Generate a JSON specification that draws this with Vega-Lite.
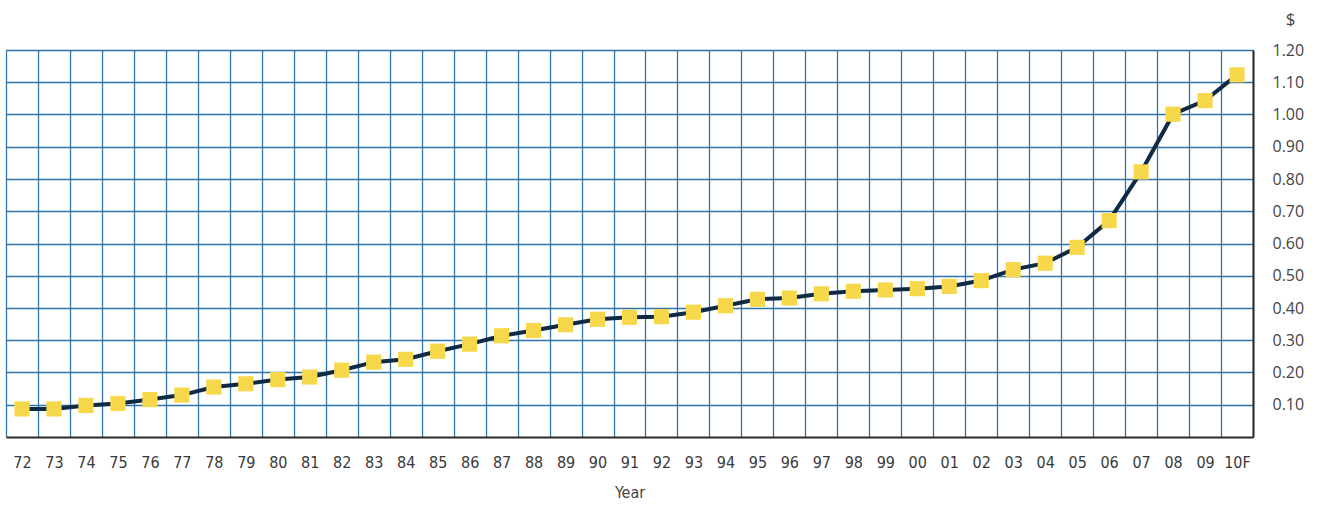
{
  "$schema": "https://vega.github.io/schema/vega-lite/v6.json",
  "autosize": "none",
  "width": 1247,
  "height": 387,
  "padding": {"left": 6, "top": 50, "right": 75, "bottom": 70},
  "background": "white",
  "config": {"view": {"stroke": null}},
  "data": {"values": [
    {"year": "72", "price": 0.087},
    {"year": "73", "price": 0.087},
    {"year": "74", "price": 0.098},
    {"year": "75", "price": 0.104},
    {"year": "76", "price": 0.116},
    {"year": "77", "price": 0.130},
    {"year": "78", "price": 0.155},
    {"year": "79", "price": 0.165},
    {"year": "80", "price": 0.178},
    {"year": "81", "price": 0.186},
    {"year": "82", "price": 0.207},
    {"year": "83", "price": 0.232},
    {"year": "84", "price": 0.241},
    {"year": "85", "price": 0.266},
    {"year": "86", "price": 0.288},
    {"year": "87", "price": 0.314},
    {"year": "88", "price": 0.330},
    {"year": "89", "price": 0.348},
    {"year": "90", "price": 0.365},
    {"year": "91", "price": 0.371},
    {"year": "92", "price": 0.373},
    {"year": "93", "price": 0.387},
    {"year": "94", "price": 0.407},
    {"year": "95", "price": 0.427},
    {"year": "96", "price": 0.431},
    {"year": "97", "price": 0.444},
    {"year": "98", "price": 0.452},
    {"year": "99", "price": 0.456},
    {"year": "00", "price": 0.460},
    {"year": "01", "price": 0.467},
    {"year": "02", "price": 0.485},
    {"year": "03", "price": 0.519},
    {"year": "04", "price": 0.539},
    {"year": "05", "price": 0.588},
    {"year": "06", "price": 0.671},
    {"year": "07", "price": 0.822},
    {"year": "08", "price": 1.001},
    {"year": "09", "price": 1.043},
    {"year": "10F", "price": 1.123}
  ]},
  "encoding": {
    "x": {
      "field": "year", "type": "ordinal", "sort": null,
      "scale": {"paddingInner": 0, "paddingOuter": 0},
      "axis": {
        "title": "Year",
        "labelAngle": 0,
        "tickBand": "extent",
        "ticks": false,
        "grid": true,
        "gridColor": "#2f74a6",
        "gridWidth": 1.3,
        "gridOpacity": 1,
        "domainColor": "#2b2b2b",
        "domainWidth": 2,
        "labelPadding": 17,
        "labelFont": "DejaVu Sans Condensed, Open Sans, sans-serif",
        "labelFontSize": 16,
        "labelColor": "#3a3a3a",
        "titleFont": "DejaVu Sans Condensed, Open Sans, sans-serif",
        "titleFontSize": 16,
        "titleFontWeight": "normal",
        "titleColor": "#444444",
        "titlePadding": 14
      }
    },
    "y": {
      "field": "price", "type": "quantitative",
      "scale": {"domain": [0, 1.2], "nice": false},
      "axis": {
        "orient": "right",
        "title": "$",
        "titleAngle": 0,
        "titleX": 37,
        "titleY": -31,
        "titleAlign": "center",
        "titleBaseline": "middle",
        "titleFont": "Open Sans",
        "titleFontSize": 17,
        "titleFontWeight": "normal",
        "titleColor": "#444444",
        "values": [0.1, 0.2, 0.3, 0.4, 0.5, 0.6, 0.7, 0.8, 0.9, 1.0, 1.1, 1.2],
        "format": ".2f",
        "ticks": false,
        "grid": true,
        "gridColor": "#2f74a6",
        "gridWidth": 1.3,
        "gridOpacity": 1,
        "domainColor": "#2b2b2b",
        "domainWidth": 2,
        "labelPadding": 19,
        "labelFont": "Open Sans",
        "labelFontSize": 16,
        "labelColor": "#444444",
        "labelAlign": "left"
      }
    }
  },
  "layer": [
    {"mark": {"type": "line", "color": "#0f2a44", "strokeWidth": 4}},
    {"mark": {"type": "point", "shape": "square", "filled": true, "color": "#f7d84a", "opacity": 1, "size": 230}}
  ]
}
